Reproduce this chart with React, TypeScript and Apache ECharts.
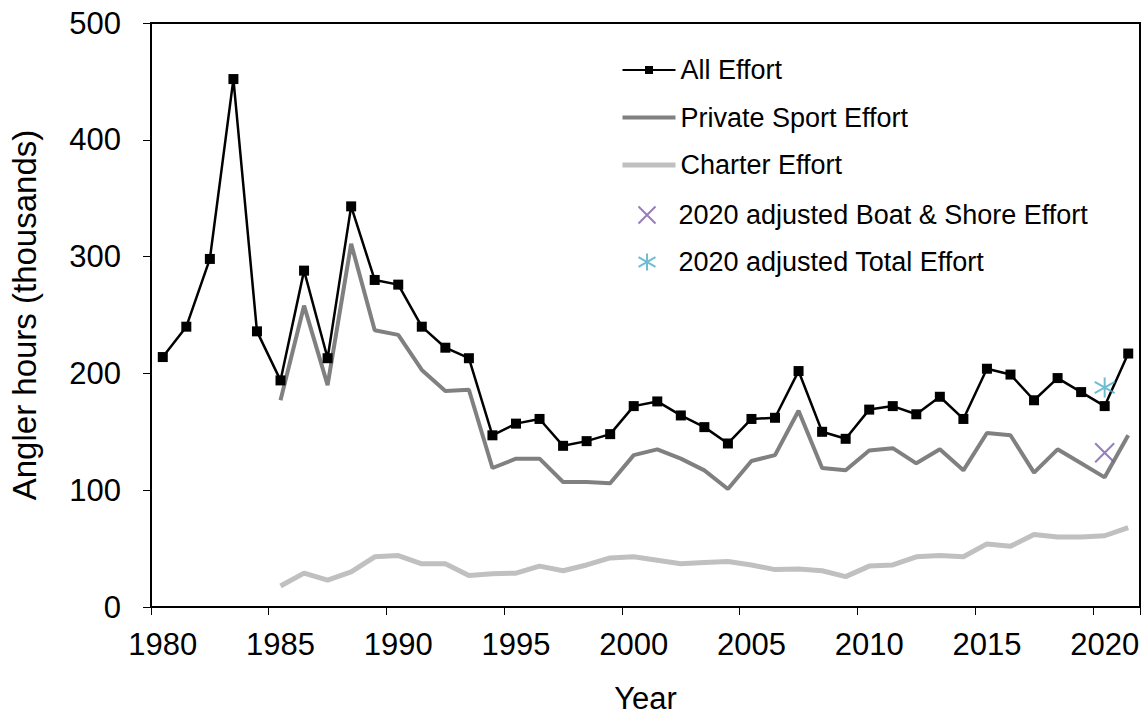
import React, { useEffect, useRef } from "react";
import * as echarts from "echarts";

const years: string[] = [
  "1980","1981","1982","1983","1984","1985","1986","1987","1988","1989",
  "1990","1991","1992","1993","1994","1995","1996","1997","1998","1999",
  "2000","2001","2002","2003","2004","2005","2006","2007","2008","2009",
  "2010","2011","2012","2013","2014","2015","2016","2017","2018","2019",
  "2020","2021",
];

const allEffort: number[] = [
  214, 240, 298, 452, 236, 194, 288, 213, 343, 280,
  276, 240, 222, 213, 147, 157, 161, 138, 142, 148,
  172, 176, 164, 154, 140, 161, 162, 202, 150, 144,
  169, 172, 165, 180, 161, 204, 199, 177, 196, 184,
  172, 217,
];

// Private sport and charter effort start in 1985
const privateStartYear = "1985";
const privateEffort: number[] = [
  177, 258, 190, 311, 237,
  233, 203, 185, 186, 119, 127, 127, 107, 107, 106,
  130, 135, 127, 117, 101, 125, 130, 168, 119, 117,
  134, 136, 123, 135, 117, 149, 147, 115, 135, 123,
  111, 147,
];
const charterEffort: number[] = [
  18, 29, 23, 30, 43,
  44, 37, 37, 27, 28.5, 29, 35, 31, 36, 42,
  43, 40, 37, 38, 39, 36, 32, 32.5, 31, 26,
  35, 36, 43, 44, 43, 54, 52, 62, 60, 60,
  61, 68,
];

const adjustedYear = "2020";
const adjustedBoatShore: number[] = [132];
const adjustedTotal: number[] = [188];

const yTicks = { min: 0, max: 500, interval: 100 };

const FONT = "'Liberation Sans', Arial, sans-serif";

const xPath = "path://M0,0L10,10M10,0L0,10";
const starPath = "path://M5,0L5,10M0,2.2L10,7.8M10,2.2L0,7.8";

const legendText = {
  fontSize: 27,
  color: "#000",
  fontFamily: FONT,
  lineHeight: 30,
};

export default function App() {
  const ref = useRef<HTMLDivElement | null>(null);

  useEffect(() => {
    if (!ref.current) return;
    const chart = echarts.init(ref.current, undefined, { renderer: "svg" });
    const startIdx = years.indexOf(privateStartYear);
    const pad = (arr: number[]) =>
      years.map((_, i) => (i < startIdx ? null : arr[i - startIdx]));
    const hiddenSymbol = { color: "rgba(0,0,0,0)", borderWidth: 0, opacity: 0 };

    chart.setOption({
      animation: false,
      backgroundColor: "#ffffff",
      textStyle: { fontFamily: FONT },
      grid: {
        left: 151,
        right: 6,
        top: 23,
        bottom: 108,
        containLabel: false,
        outerBoundsMode: "none",
        show: true,
        borderColor: "#000",
        borderWidth: 2,
      },
      legend: [
        {
          orient: "vertical",
          left: 620,
          top: 55,
          padding: 0,
          itemGap: 17.5,
          itemWidth: 53,
          itemHeight: 10,
          textStyle: legendText,
          data: [
            { name: "All Effort", lineStyle: { width: 2 } },
            { name: "Private Sport Effort", itemStyle: hiddenSymbol, lineStyle: { width: 4 } },
            { name: "Charter Effort", itemStyle: hiddenSymbol, lineStyle: { width: 5 } },
          ],
        },
        {
          orient: "vertical",
          left: 636,
          top: 200,
          padding: 0,
          itemGap: 17,
          itemWidth: 53,
          itemHeight: 17,
          textStyle: legendText,
          data: ["2020 adjusted Boat & Shore Effort", "2020 adjusted Total Effort"],
        },
      ],
      xAxis: {
        type: "category",
        data: years,
        boundaryGap: true,
        name: "Year",
        nameLocation: "middle",
        nameGap: 76,
        nameTextStyle: { fontSize: 31, color: "#000", fontFamily: FONT },
        axisLine: { lineStyle: { color: "#000", width: 2 } },
        axisTick: { show: true, interval: 4, length: 8, lineStyle: { color: "#000", width: 1 } },
        axisLabel: { interval: 4, fontSize: 31, color: "#000", margin: 22, fontFamily: FONT },
        splitLine: { show: false },
      },
      yAxis: {
        type: "value",
        min: yTicks.min,
        max: yTicks.max,
        interval: yTicks.interval,
        name: "Angler hours (thousands)",
        nameLocation: "middle",
        nameGap: 110,
        nameTextStyle: { fontSize: 33, color: "#000", fontFamily: FONT },
        axisLine: { show: true, lineStyle: { color: "#000", width: 2 } },
        axisTick: { show: true, length: 8, lineStyle: { color: "#000", width: 1 } },
        axisLabel: { fontSize: 31, color: "#000", margin: 30, fontFamily: FONT },
        splitLine: { show: false },
      },
      series: [
        {
          name: "Private Sport Effort",
          type: "line",
          data: pad(privateEffort),
          symbol: "circle",
          showSymbol: false,
          lineStyle: { color: "#808080", width: 4 },
          itemStyle: { color: "#808080" },
          z: 2,
        },
        {
          name: "Charter Effort",
          type: "line",
          data: pad(charterEffort),
          symbol: "circle",
          showSymbol: false,
          lineStyle: { color: "#c0c0c0", width: 5 },
          itemStyle: { color: "#c0c0c0" },
          z: 2,
        },
        {
          name: "All Effort",
          type: "line",
          data: allEffort,
          symbol: "rect",
          symbolSize: 10,
          lineStyle: { color: "#000", width: 2.5 },
          itemStyle: { color: "#000" },
          z: 3,
        },
        {
          name: "2020 adjusted Boat & Shore Effort",
          type: "scatter",
          data: adjustedBoatShore.map((v) => [adjustedYear, v]),
          symbol: xPath,
          symbolSize: 19,
          itemStyle: { color: "none", borderColor: "#7b5ea7", borderWidth: 2 },
          z: 4,
        },
        {
          name: "2020 adjusted Total Effort",
          type: "scatter",
          data: adjustedTotal.map((v) => [adjustedYear, v]),
          symbol: starPath,
          symbolSize: 20,
          itemStyle: { color: "none", borderColor: "#4bacc6", borderWidth: 2 },
          z: 4,
        },
      ],
    });
    return () => chart.dispose();
  }, []);

  return (
    <div
      ref={ref}
      style={{ position: "fixed", left: 0, top: 0, width: 1146, height: 715, background: "#fff" }}
    />
  );
}
